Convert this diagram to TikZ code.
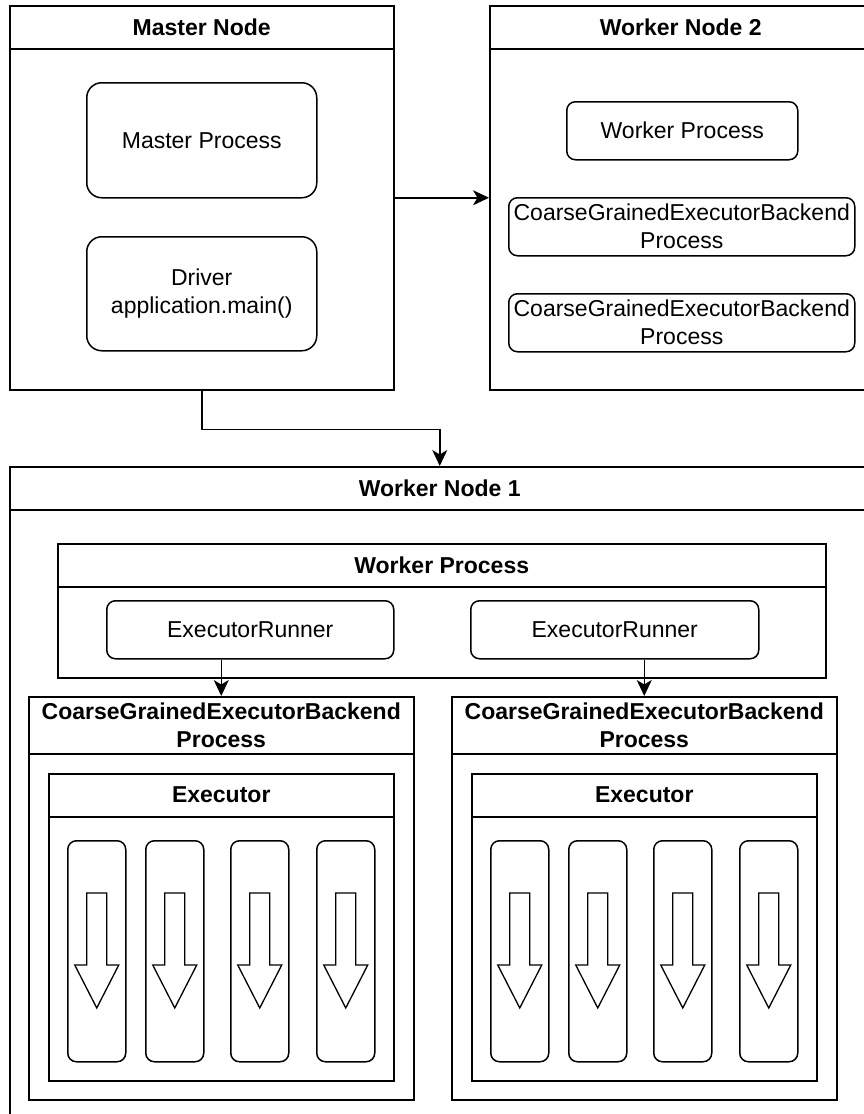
\documentclass[tikz,border=0pt]{standalone}
\usepackage{fontspec}
\setmainfont{Liberation Sans}
\usetikzlibrary{arrows.meta,calc}

\tikzset{
  frame/.style={draw, line width=1.5pt, rectangle, inner sep=0pt, anchor=north west},
  rbox/.style={frame, rounded corners=#1},
  rbox/.default=8.7pt,
  title/.style={font=\fontsize{23}{28}\selectfont\bfseries, align=center, inner sep=0pt},
  label/.style={font=\fontsize{23}{28}\selectfont, align=center, inner sep=0pt},
  link/.style={line width=1.5pt, -{Stealth[length=16pt, width=15pt, inset=4.5pt]}},
  blockarrow/.style={draw, line width=1.3pt, fill=white, line join=miter},
}

\begin{document}
\begin{tikzpicture}[x=1pt, y=-1pt]
\useasboundingbox[fill=white] (0,0) rectangle (864,1114);
\clip (0,0) rectangle (864,1114);

% ---------- Master node ----------
\node[frame, minimum width=384pt, minimum height=384pt] (mn) at (9,5) {};
\draw[line width=1.5pt] ([yshift=-44pt]mn.north west) -- ([yshift=-44pt]mn.north east);
\node[title] (mnt) at ($(mn.north)+(0,22)$) {Master Node};
\node[rbox=15pt, minimum width=230pt, minimum height=115pt] (mp) at (86,82) {};
\node[label] (mpt) at (mp.center) {Master Process};
\node[rbox=15pt, minimum width=230pt, minimum height=114pt] (drv) at (86,236) {};
\node[label] (drvt) at (drv.center) {Driver\\application.main()};

% ---------- Worker node 2 ----------
\node[frame, minimum width=382pt, minimum height=384pt] (wn2) at (489,5) {};
\draw[line width=1.5pt] ([yshift=-44pt]wn2.north west) -- ([yshift=-44pt]wn2.north east);
\node[title] (wn2t) at ($(wn2.north)+(0,22)$) {Worker Node 2};
\node[rbox, minimum width=231pt, minimum height=58pt] (wp2) at (566,101) {};
\node[label] (wp2t) at (wp2.center) {Worker Process};
\node[rbox, minimum width=346pt, minimum height=58pt] (cb2a) at (508,197) {};
\node[label] (cb2at) at (cb2a.center) {CoarseGrainedExecutorBackend\\Process};
\node[rbox, minimum width=346pt, minimum height=58pt] (cb2b) at (508,293) {};
\node[label] (cb2bt) at (cb2b.center) {CoarseGrainedExecutorBackend\\Process};

% ---------- Worker node 1 ----------
\node[frame, minimum width=860pt, minimum height=670pt] (wn1) at (9,466) {};
\draw[line width=1.5pt] ([yshift=-44pt]wn1.north west) -- ([yshift=-44pt]wn1.north east);
\node[title] (wn1t) at ($(wn1.north)+(0,22)$) {Worker Node 1};

% worker process with its two runners
\node[frame, minimum width=768pt, minimum height=134pt] (wp1) at (57,543) {};
\draw[line width=1.5pt] ([yshift=-44pt]wp1.north west) -- ([yshift=-44pt]wp1.north east);
\node[title] (wp1t) at ($(wp1.north)+(0,22)$) {Worker Process};
\node[rbox, minimum width=287pt, minimum height=58pt] (er1) at (106,600) {};
\node[label] (er1t) at (er1.center) {ExecutorRunner};
\node[rbox, minimum width=288pt, minimum height=58pt] (er2) at (470,600) {};
\node[label] (er2t) at (er2.center) {ExecutorRunner};

% two backend processes, each holding an executor with four task slots
\foreach \i/\dx in {1/0, 2/423} {
  \node[frame, minimum width=385pt, minimum height=403pt] (cb\i) at (28+\dx,696) {};
  \draw[line width=1.5pt] ([yshift=-58pt]cb\i.north west) -- ([yshift=-58pt]cb\i.north east);
  \node[title] (cb\i t) at ($(cb\i.north)+(0,29)$) {CoarseGrainedExecutorBackend\\Process};
  \node[frame, minimum width=345pt, minimum height=307pt] (ex\i) at (48+\dx,773) {};
  \draw[line width=1.5pt] ([yshift=-44pt]ex\i.north west) -- ([yshift=-44pt]ex\i.north east);
  \node[title] (ex\i t) at ($(ex\i.north)+(0,22)$) {Executor};
  \foreach \j/\tx in {1/67, 2/145, 3/230, 4/316} {
    \node[rbox, minimum width=58pt, minimum height=221pt] (t\i\j) at (\tx+\dx,840) {};
    \path[blockarrow]
      ($(t\i\j.north)+(-10,53)$) -- ($(t\i\j.north)+(10,53)$)
      -- ($(t\i\j.north)+(10,125)$) -- ($(t\i\j.north)+(22,125)$)
      -- ($(t\i\j.north)+(0,168)$) -- ($(t\i\j.north)+(-22,125)$)
      -- ($(t\i\j.north)+(-10,125)$) -- cycle;
  }
}

% ---------- connectors ----------
\draw[link] (mn.east) -- (wn2.west);
\draw[link] (mn.south) -- ++(0,39) -| (wn1.north);
\draw[link] (er1.south -| cb1.north) -- (cb1.north);
\draw[link] (er2.south -| cb2.north) -- (cb2.north);
\end{tikzpicture}
\end{document}
